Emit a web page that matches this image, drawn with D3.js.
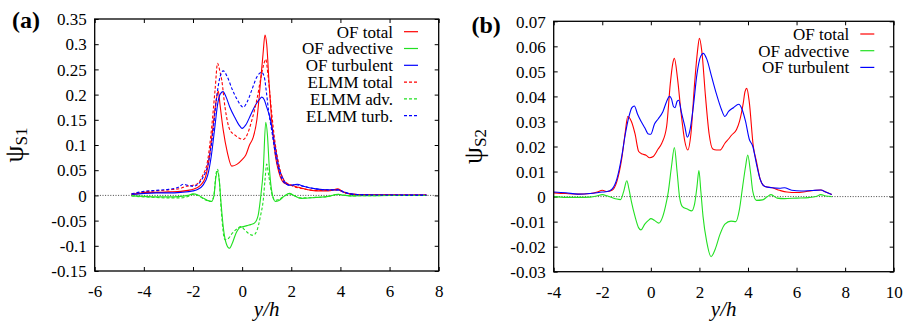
<!DOCTYPE html>
<html><head><meta charset="utf-8">
<script src="https://cdn.jsdelivr.net/npm/d3@7"></script>
<style>body{margin:0;background:#fff}svg{display:block}svg text{font-family:"Liberation Serif","Times New Roman",serif !important;fill:#000}</style>
</head><body><svg id="c" width="911" height="323"></svg>
<script>
// ---------- Panel (a) data ----------
const aXTicks = [-6,-4,-2,0,2,4,6,8];
const aYTicks = [-0.15,-0.1,-0.05,0,0.05,0.1,0.15,0.2,0.25,0.3,0.35];
const aOFTotalX = [-4.5,-4.2,-4,-3.5,-3,-2.5,-2.2,-2,-1.7,-1.5,-1.35,-1.2,-1.05,-0.97,-0.9,-0.77,-0.6,-0.42,-0.2,0,0.15,0.3,0.45,0.6,0.73,0.85,0.93,1.0,1.1,1.2,1.35,1.5,1.7,2.0,2.3,2.6,3.0,3.5,3.8,3.9,4.1,4.4,5,6,7,7.5];
const aOFTotalY = [0.002,0.004,0.006,0.006,0.007,0.008,0.01,0.012,0.02,0.035,0.07,0.13,0.19,0.207,0.18,0.13,0.085,0.058,0.062,0.071,0.08,0.1,0.115,0.15,0.215,0.28,0.318,0.3,0.22,0.15,0.08,0.045,0.025,0.02,0.016,0.012,0.009,0.009,0.012,0.013,0.007,0.003,0.001,0.001,0.0005,0.0005];
const aELTotalX = [-4.5,-4,-3.5,-3,-2.5,-2.3,-2,-1.8,-1.6,-1.4,-1.25,-1.1,-1.0,-0.9,-0.83,-0.7,-0.5,-0.3,-0.1,0.05,0.2,0.4,0.6,0.75,0.88,0.96,1.05,1.15,1.3,1.5,1.7,2.0,2.5,3,3.5,3.9,4.2,4.5,5,6,7,7.5];
const aELTotalY = [0.003,0.007,0.009,0.011,0.014,0.018,0.02,0.024,0.04,0.07,0.13,0.21,0.262,0.245,0.229,0.176,0.13,0.12,0.113,0.111,0.12,0.15,0.19,0.23,0.26,0.27,0.24,0.19,0.12,0.06,0.03,0.02,0.013,0.01,0.01,0.011,0.005,0.002,0.001,0.0008,0.0006,0.0005];
const aOFTurbX = [-4.5,-4,-3.5,-3,-2.5,-2,-1.8,-1.6,-1.4,-1.25,-1.1,-1.0,-0.9,-0.78,-0.65,-0.5,-0.3,-0.1,0.0,0.15,0.35,0.55,0.7,0.8,0.9,1.0,1.13,1.3,1.5,1.7,1.9,2.1,2.25,2.5,3,3.5,3.9,4.1,4.4,5,6,7,7.5];
const aOFTurbY = [0.002,0.004,0.005,0.005,0.006,0.009,0.012,0.02,0.04,0.08,0.14,0.18,0.2,0.206,0.195,0.175,0.155,0.138,0.133,0.14,0.16,0.18,0.19,0.195,0.19,0.175,0.155,0.11,0.055,0.03,0.02,0.021,0.022,0.018,0.013,0.011,0.011,0.007,0.003,0.001,0.0008,0.0005,0.0005];
const aELTurbX = [-4.5,-4,-3.5,-3,-2.6,-2.4,-2.2,-2,-1.8,-1.6,-1.4,-1.2,-1.05,-0.9,-0.77,-0.6,-0.4,-0.2,0.0,0.05,0.2,0.4,0.6,0.8,0.9,1.0,1.07,1.2,1.4,1.6,1.8,2.0,2.2,2.5,3,3.5,3.9,4.2,4.5,5,6,7,7.5];
const aELTurbY = [0.003,0.008,0.01,0.012,0.016,0.022,0.02,0.018,0.022,0.035,0.06,0.12,0.19,0.235,0.247,0.235,0.21,0.19,0.176,0.175,0.185,0.21,0.235,0.244,0.235,0.2,0.17,0.13,0.07,0.035,0.022,0.02,0.021,0.018,0.013,0.011,0.011,0.006,0.002,0.001,0.0008,0.0005,0.0005];
const aOFAdvX = [-4.5,-4,-3.5,-3,-2.5,-2.2,-2,-1.8,-1.6,-1.4,-1.25,-1.15,-1.07,-1.0,-0.93,-0.85,-0.75,-0.65,-0.52,-0.4,-0.25,-0.1,0.05,0.2,0.35,0.5,0.65,0.75,0.86,0.96,1.03,1.1,1.2,1.35,1.5,1.7,1.93,2.1,2.4,3,3.5,3.9,4.2,4.5,5,6,7,7.5];
const aOFAdvY = [-0.001,-0.002,-0.003,-0.003,-0.002,0.0,0.003,0.001,-0.005,-0.01,-0.012,-0.002,0.035,0.048,0.03,-0.02,-0.07,-0.095,-0.105,-0.095,-0.075,-0.064,-0.062,-0.06,-0.058,-0.055,-0.04,-0.005,0.05,0.145,0.12,0.06,0.01,-0.012,-0.01,-0.002,0.004,0.0,-0.006,-0.004,-0.002,0.002,0.0,-0.001,-0.0005,-0.0003,-0.0002,-0.0002];
const aELAdvX = [-4.5,-4,-3.5,-3,-2.5,-2.2,-2,-1.8,-1.6,-1.4,-1.25,-1.15,-1.07,-1.0,-0.93,-0.85,-0.7,-0.55,-0.4,-0.2,-0.05,0.1,0.25,0.45,0.6,0.75,0.86,0.93,1.0,1.08,1.2,1.35,1.5,1.7,1.93,2.1,2.4,3,3.5,3.9,4.2,4.5,5,6,7,7.5];
const aELAdvY = [-0.001,-0.003,-0.004,-0.005,-0.005,-0.002,0.002,0.0,-0.006,-0.011,-0.012,0.0,0.04,0.052,0.03,-0.03,-0.088,-0.085,-0.075,-0.066,-0.062,-0.068,-0.075,-0.079,-0.07,-0.04,-0.009,0.03,0.062,0.04,0.005,-0.01,-0.008,-0.002,0.003,0.0,-0.005,-0.004,-0.002,0.002,0.0,-0.001,-0.0005,-0.0003,-0.0002,-0.0002];

// ---------- Panel (b) data ----------
const bXTicks = [-4,-2,0,2,4,6,8,10];
const bYTicks = [-0.03,-0.02,-0.01,0,0.01,0.02,0.03,0.04,0.05,0.06,0.07];
const bOFTotalX = [-4,-3.5,-3,-2.5,-2.2,-2,-1.8,-1.6,-1.4,-1.2,-1.05,-0.95,-0.8,-0.65,-0.5,-0.35,-0.2,-0.05,0.1,0.3,0.45,0.65,0.8,0.9,0.97,1.1,1.25,1.4,1.52,1.65,1.8,1.92,2.0,2.1,2.25,2.4,2.55,2.7,2.85,3.05,3.2,3.33,3.53,3.65,3.8,3.88,3.95,4.05,4.22,4.35,4.5,4.7,5.0,5.3,5.6,6.0,6.4,6.8,7.0,7.2,7.45];
const bOFTotalY = [0.0015,0.0012,0.001,0.0012,0.0018,0.0025,0.002,0.0025,0.006,0.015,0.026,0.032,0.03,0.025,0.018,0.017,0.0165,0.0155,0.016,0.019,0.0213,0.028,0.045,0.053,0.0552,0.047,0.033,0.022,0.0186,0.025,0.045,0.058,0.0632,0.058,0.04,0.025,0.019,0.0186,0.0186,0.0213,0.023,0.0246,0.0268,0.03,0.037,0.042,0.0432,0.038,0.02,0.014,0.007,0.004,0.0035,0.0025,0.0018,0.0016,0.002,0.0025,0.0026,0.0018,0.0008];
const bOFTurbX = [-4,-3.5,-3,-2.5,-2,-1.8,-1.6,-1.4,-1.2,-1.05,-0.9,-0.78,-0.68,-0.55,-0.4,-0.25,-0.1,0.0,0.15,0.3,0.5,0.65,0.77,0.85,0.93,1.0,1.08,1.15,1.25,1.4,1.5,1.6,1.75,1.9,2.05,2.16,2.3,2.5,2.7,2.9,3.05,3.2,3.4,3.62,3.75,3.9,4.05,4.2,4.35,4.5,4.7,5.0,5.3,5.5,5.8,6.2,6.6,7.0,7.2,7.45];
const bOFTurbY = [0.0018,0.0015,0.001,0.0012,0.0018,0.002,0.003,0.007,0.016,0.025,0.032,0.0355,0.0362,0.033,0.03,0.0275,0.025,0.0249,0.029,0.031,0.034,0.038,0.04,0.039,0.036,0.0355,0.038,0.0385,0.034,0.028,0.0237,0.026,0.036,0.049,0.056,0.0572,0.055,0.048,0.041,0.035,0.032,0.034,0.0355,0.0369,0.035,0.03,0.023,0.02,0.013,0.007,0.004,0.0035,0.0033,0.0035,0.0025,0.0022,0.0024,0.0026,0.0018,0.0008];
const bOFAdvX = [-4,-3.5,-3,-2.5,-2.2,-2,-1.8,-1.6,-1.4,-1.25,-1.12,-0.99,-0.9,-0.8,-0.65,-0.5,-0.41,-0.25,-0.1,0.0,0.15,0.33,0.45,0.6,0.72,0.85,0.97,1.08,1.18,1.3,1.5,1.68,1.8,1.9,1.98,2.06,2.15,2.3,2.48,2.65,2.85,3.05,3.3,3.5,3.65,3.78,3.9,3.99,4.1,4.2,4.35,4.6,4.8,4.95,5.2,5.5,6,6.5,6.8,7.0,7.2,7.45];
const bOFAdvY = [0,-0.0003,-0.0003,-0.0002,0.0003,0.0008,0.0003,-0.0004,-0.001,-0.0012,0.002,0.0063,0.003,-0.002,-0.008,-0.0125,-0.0133,-0.011,-0.0095,-0.0088,-0.0095,-0.0106,-0.009,-0.004,0.002,0.012,0.0196,0.01,0.0,-0.004,-0.005,-0.0057,-0.003,0.004,0.0104,0.002,-0.008,-0.018,-0.024,-0.021,-0.015,-0.011,-0.0098,-0.01,-0.005,0.004,0.012,0.0166,0.01,0.002,-0.0015,-0.0013,0.0,0.0008,-0.0006,-0.0008,-0.0006,-0.0004,0.0,0.0008,0.0002,0.0];

const RED = "#ff0000", GREEN = "#22e022", BLUE = "#0000ff";
const SERIF = '"Liberation Serif","Times New Roman",serif';
const fmt = v => String(+v.toFixed(3));

const svg = d3.select("#c");
svg.append("rect").attr("width",911).attr("height",323).attr("fill","#fff");

function panel(o) {
  const x = d3.scaleLinear().domain(o.xd).range([o.l, o.r]);
  const y = d3.scaleLinear().domain(o.yd).range([o.b, o.t]);
  const g = svg.append("g");
  const T = 4;
  const ax = (gen, tr, ticks, labels) => {
    const a = g.append("g").attr("transform", tr)
      .call(gen.tickValues(ticks).tickSizeInner(-T).tickSizeOuter(0).tickPadding(8)
        .tickFormat(labels ? fmt : ""));
    a.attr("font-family", null);
    a.select(".domain").remove();
    a.selectAll("line").attr("stroke","#000").attr("stroke-width",1);
    a.selectAll("text").style("font-family",SERIF).style("font-size","17px").attr("fill","#000");
    return a;
  };
  const bx = ax(d3.axisBottom(x), `translate(0,${o.b})`, o.xt, true);
  bx.selectAll("text").attr("dy","1.05em");
  ax(d3.axisTop(x), `translate(0,${o.t})`, o.xt, false);
  const ly = ax(d3.axisLeft(y), `translate(${o.l},0)`, o.yt, true);
  ly.selectAll("text").attr("dy","0.34em");
  ax(d3.axisRight(y), `translate(${o.r},0)`, o.yt, false);
  // zero line
  g.append("line").attr("x1",o.l).attr("x2",o.r).attr("y1",y(0)).attr("y2",y(0))
    .attr("stroke","#333").attr("stroke-width",0.9).attr("stroke-dasharray","1,1.6");
  const line = d3.line().x(d=>x(d[0])).y(d=>y(d[1])).curve(d3.curveMonotoneX);
  o.series.forEach(s => {
    const pts = s.x.map((v,i)=>[v, s.y[i]]);
    g.append("path").attr("d", line(pts)).attr("fill","none").attr("stroke", s.c)
      .attr("stroke-width",1.1).attr("stroke-dasharray", s.dash ? "3,2" : null);
  });
  g.append("rect").attr("x",o.l).attr("y",o.t).attr("width",o.r-o.l).attr("height",o.b-o.t)
    .attr("fill","none").attr("stroke","#000").attr("stroke-width",1.3);
  // legend
  o.series.forEach((s,i) => {
    const cy = o.legY + i*o.legDy;
    g.append("text").attr("x",o.legX).attr("y",cy).attr("dy","0.35em").attr("text-anchor","end")
      .style("font-size","17px").text(s.name);
    g.append("line").attr("x1",o.legX+11).attr("x2",o.legX+25).attr("y1",cy).attr("y2",cy)
      .attr("stroke",s.c).attr("stroke-width",1.2).attr("stroke-dasharray", s.dash ? "3,2" : null);
  });
  // panel label
  svg.append("text").attr("x",o.pl[0]).attr("y",o.pl[1]).style("font-size","24px").attr("font-weight","bold").text(o.label);
  // x label
  svg.append("text").attr("x",(o.l+o.r)/2).attr("y",316).attr("text-anchor","middle")
    .style("font-size","21px").attr("font-style","italic").text("y/h");
  // y label
  const yl = svg.append("text").attr("transform",`translate(${o.yl},${(o.t+o.b)/2}) rotate(-90)`)
    .attr("text-anchor","middle");
  yl.append("tspan").style("font-size","27px").text("ψ");
  yl.append("tspan").style("font-size","17px").attr("dy","4").text(o.sub);
}

panel({l:94.7, r:438.7, t:19, b:271, xd:[-6,8], yd:[-0.15,0.35], xt:aXTicks, yt:aYTicks,
  legX:393, legY:31.7, legDy:16.8, label:"(a)", pl:[12,28], yl:23, sub:"S1",
  series:[
    {name:"OF total", x:aOFTotalX, y:aOFTotalY, c:RED},
    {name:"OF advective", x:aOFAdvX, y:aOFAdvY, c:GREEN},
    {name:"OF turbulent", x:aOFTurbX, y:aOFTurbY, c:BLUE},
    {name:"ELMM total", x:aELTotalX, y:aELTotalY, c:RED, dash:true},
    {name:"ELMM adv.", x:aELAdvX, y:aELAdvY, c:GREEN, dash:true},
    {name:"ELMM turb.", x:aELTurbX, y:aELTurbY, c:BLUE, dash:true}
  ]});
panel({l:553.7, r:893.7, t:21.3, b:271.7, xd:[-4,10], yd:[-0.03,0.07], xt:bXTicks, yt:bYTicks,
  legX:849.3, legY:34, legDy:16.7, label:"(b)", pl:[471.5,32.5], yl:482, sub:"S2",
  series:[
    {name:"OF total", x:bOFTotalX, y:bOFTotalY, c:RED},
    {name:"OF advective", x:bOFAdvX, y:bOFAdvY, c:GREEN},
    {name:"OF turbulent", x:bOFTurbX, y:bOFTurbY, c:BLUE}
  ]});
</script></body></html>
